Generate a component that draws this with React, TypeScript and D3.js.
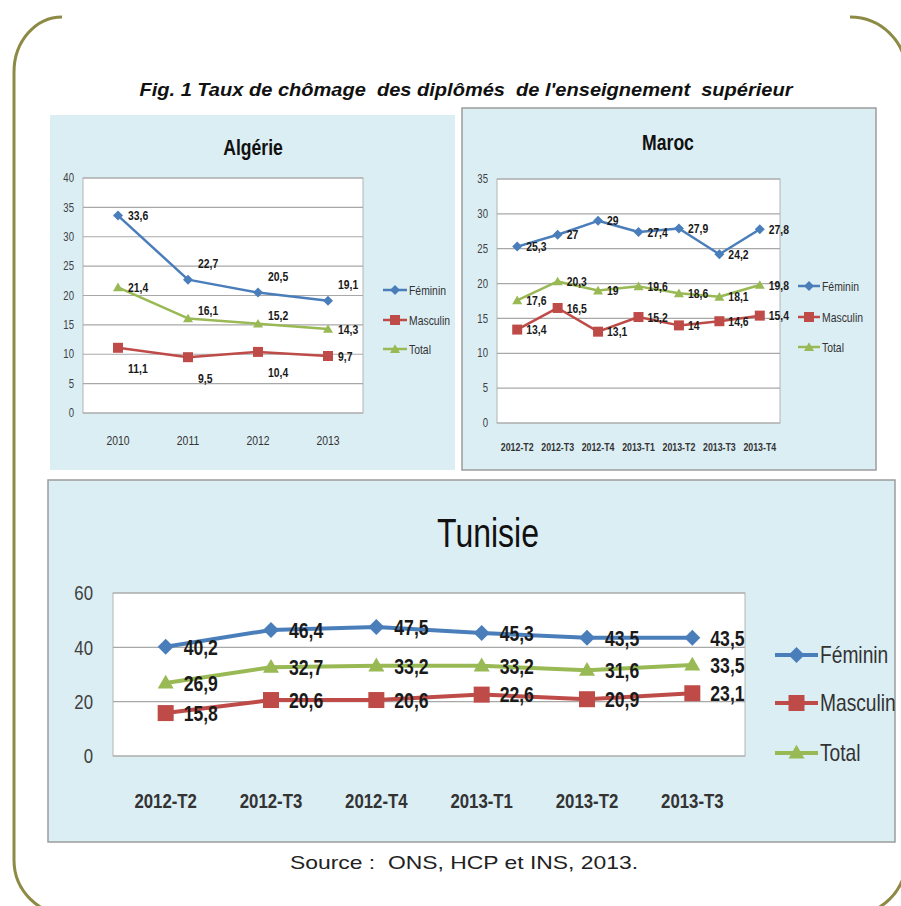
import * as d3 from 'd3';

const W = 901;
const H = 906;

// Algérie
const algCats = ['2010', '2011', '2012', '2013'];
const algFem = [33.6, 22.7, 20.5, 19.1];
const algMasc = [11.1, 9.5, 10.4, 9.7];
const algTot = [21.4, 16.1, 15.2, 14.3];

// Maroc
const marCats = ['2012-T2', '2012-T3', '2012-T4', '2013-T1', '2013-T2', '2013-T3', '2013-T4'];
const marFem = [25.3, 27, 29, 27.4, 27.9, 24.2, 27.8];
const marMasc = [13.4, 16.5, 13.1, 15.2, 14, 14.6, 15.4];
const marTot = [17.6, 20.3, 19, 19.6, 18.6, 18.1, 19.8];

// Tunisie
const tunCats = ['2012-T2', '2012-T3', '2012-T4', '2013-T1', '2013-T2', '2013-T3'];
const tunFem = [40.2, 46.4, 47.5, 45.3, 43.5, 43.5];
const tunMasc = [15.8, 20.6, 20.6, 22.6, 20.9, 23.1];
const tunTot = [26.9, 32.7, 33.2, 33.2, 31.6, 33.5];

const seriesNames = ['Féminin', 'Masculin', 'Total'];

// label placement codes: r = right, u = up a bit, uu = up more, d = below
const algPos = [
  ['r', 'uu', 'uu', 'uu'],
  ['d', 'd', 'd', 'r'],
  ['r', 'u', 'u', 'r'],
];

const COL = ['#4a7ebb', '#be4b48', '#98b954'];
const KIND = ['diamond', 'square', 'triangle'];
const SANS = '"Liberation Sans", Arial, sans-serif';
const SQ = 0.8; // horizontal squeeze, the source picture is condensed
const PANEL_BG = '#dbeef4';

const fmt = (v: number) => String(v).replace('.', ',');
const posDy: Record<string, number> = { r: 0, u: -8, uu: -16, d: 21 };

// condensed text
function T({ x, y, size, anchor = 'start', weight = 'normal', fill = '#222', dy = '0.35em', children }: any) {
  return (
    <text transform={`translate(${x},${y}) scale(${SQ},1)`} textAnchor={anchor} dy={dy}
      fontFamily={SANS} fontSize={size} fontWeight={weight} fill={fill}>{children}</text>
  );
}

function Marker({ kind, x, y, s, color }: { kind: string; x: number; y: number; s: number; color: string }) {
  if (kind === 'diamond') {
    const d = d3.symbol().type(d3.symbolSquare).size((s * s) / 2)()!;
    return <path d={d} transform={`translate(${x},${y}) rotate(45)`} fill={color} />;
  }
  if (kind === 'square') {
    const d = d3.symbol().type(d3.symbolSquare).size(s * s)()!;
    return <path d={d} transform={`translate(${x},${y})`} fill={color} />;
  }
  const d = d3.symbol().type(d3.symbolTriangle).size((Math.sqrt(3) / 4) * s * s)()!;
  return <path d={d} transform={`translate(${x},${y + 1})`} fill={color} />;
}

interface PanelProps {
  id: string;
  title: string;
  cats: string[];
  values: number[][];
  pos?: string[][];
  box: [number, number, number, number];
  plot: [number, number, number, number];
  yMax: number;
  yStep: number;
  border: boolean;
  titleX: number;
  titleY: number;
  titleSize: number;
  titleWeight: string;
  tickSize: number;
  tickX: number;
  xLabY: number;
  xLabSize: number;
  xLabWeight: string;
  labSize: number;
  labDx: number;
  lineW: number;
  mark: number;
  legX: number;
  legLen: number;
  legY: number[];
  legSize: number;
}

function Panel(p: PanelProps) {
  const [bx, by, bw, bh] = p.box;
  const [l, t, r, b] = p.plot;
  const x = d3.scaleBand<string>().domain(p.cats).range([l, r]);
  const y = d3.scaleLinear().domain([0, p.yMax]).range([b, t]);
  const ticks = d3.range(0, p.yMax + 0.001, p.yStep);
  const cx = (i: number) => x(p.cats[i])! + x.bandwidth() / 2;
  const line = d3.line<number>().x((_, i) => cx(i)).y(d => y(d));

  return (
    <g>
      <defs>
        <clipPath id={`clip-${p.id}`}>
          <rect x={bx} y={by} width={bw} height={bh} />
        </clipPath>
      </defs>
      <rect x={bx} y={by} width={bw} height={bh} fill={PANEL_BG}
        stroke={p.border ? '#9c9c9c' : 'none'} strokeWidth={1.5} />
      <g clipPath={`url(#clip-${p.id})`}>
        <T x={p.titleX} y={p.titleY} dy="0" anchor="middle" size={p.titleSize} weight={p.titleWeight} fill="#111">{p.title}</T>
        <rect x={l} y={t} width={r - l} height={b - t} fill="#fff" stroke="#b4b4b4" strokeWidth={1} />
        {ticks.map(v => (
          <g key={v}>
            <line x1={l} x2={r} y1={y(v)} y2={y(v)} stroke="#a8a8a8" strokeWidth={1.2} />
            <T x={p.tickX} y={y(v)} anchor="end" size={p.tickSize} fill="#404040">{v}</T>
          </g>
        ))}
        {p.cats.map((c, i) => (
          <T key={c} x={cx(i)} y={p.xLabY} dy="0" anchor="middle" size={p.xLabSize} weight={p.xLabWeight} fill="#333">{c}</T>
        ))}
        {p.values.map((vals, si) => (
          <g key={si}>
            <path d={line(vals)!} fill="none" stroke={COL[si]} strokeWidth={p.lineW} strokeLinejoin="round" />
            {vals.map((v, i) => (
              <Marker key={i} kind={KIND[si]} x={cx(i)} y={y(v)} s={p.mark} color={COL[si]} />
            ))}
          </g>
        ))}
        {p.values.map((vals, si) =>
          vals.map((v, i) => {
            const code = p.pos ? p.pos[si][i] : 'r';
            return (
              <T key={`${si}-${i}`} x={cx(i) + p.labDx} y={y(v) + posDy[code]} size={p.labSize} weight="bold" fill="#1a1a1a">{fmt(v)}</T>
            );
          })
        )}
        {seriesNames.map((name, si) => (
          <g key={name}>
            <line x1={p.legX} x2={p.legX + p.legLen} y1={p.legY[si]} y2={p.legY[si]}
              stroke={COL[si]} strokeWidth={p.lineW} />
            <Marker kind={KIND[si]} x={p.legX + p.legLen / 2} y={p.legY[si]} s={p.mark} color={COL[si]} />
            <T x={p.legX + p.legLen + 2} y={p.legY[si]} size={p.legSize} fill="#333">{name}</T>
          </g>
        ))}
      </g>
    </g>
  );
}

export default function App() {
  return (
    <svg width={W} height={H} style={{ position: 'absolute', left: 0, top: 0, background: '#fff' }}>
      {/* outer rounded frame, top edge is not drawn */}
      <path d="M 62 17 A 48 55 0 0 0 14 72 L 14 860 A 55 55 0 0 0 69 915" fill="none" stroke="#8d8a45" strokeWidth={3} />
      <path d="M 850 17 A 56 55 0 0 1 906 72 L 906 860 A 55 55 0 0 1 851 915" fill="none" stroke="#8d8a45" strokeWidth={3} />

      <text x={466} y={96} textAnchor="middle" fontFamily={SANS} fontSize={18} fontWeight="bold"
        fontStyle="italic" fill="#111" textLength={653} lengthAdjust="spacingAndGlyphs"
        style={{ whiteSpace: 'pre' }}>
        {"Fig. 1 Taux de chômage  des diplômés  de l'enseignement  supérieur"}
      </text>

      <Panel id="alg" title="Algérie" cats={algCats} values={[algFem, algMasc, algTot]} pos={algPos}
        box={[50, 115, 405, 355]} plot={[83, 178, 363, 413]} yMax={40} yStep={5} border={false}
        titleX={253} titleY={155} titleSize={22} titleWeight="bold"
        tickSize={12} tickX={74} xLabY={445} xLabSize={13} xLabWeight="normal"
        labSize={13} labDx={10} lineW={2.5} mark={10}
        legX={383} legLen={24} legY={[290, 320, 349]} legSize={13} />

      <Panel id="mar" title="Maroc" cats={marCats} values={[marFem, marMasc, marTot]}
        box={[462, 108, 414, 362]} plot={[497, 179, 780, 423]} yMax={35} yStep={5} border={true}
        titleX={668} titleY={150} titleSize={22} titleWeight="bold"
        tickSize={12} tickX={488} xLabY={451} xLabSize={11} xLabWeight="bold"
        labSize={13} labDx={9} lineW={2.5} mark={10}
        legX={798} legLen={22} legY={[286, 317, 347]} legSize={13} />

      <Panel id="tun" title="Tunisie" cats={tunCats} values={[tunFem, tunMasc, tunTot]}
        box={[48, 480, 847, 362]} plot={[113, 593, 745, 756]} yMax={60} yStep={20} border={true}
        titleX={488} titleY={547} titleSize={40} titleWeight="normal"
        tickSize={21} tickX={93} xLabY={808} xLabSize={21} xLabWeight="bold"
        labSize={22} labDx={18} lineW={4} mark={16}
        legX={775} legLen={43} legY={[655, 703, 753]} legSize={24} />

      <text x={464} y={869} textAnchor="middle" fontFamily={SANS} fontSize={19} fill="#222"
        textLength={348} lengthAdjust="spacingAndGlyphs" style={{ whiteSpace: 'pre' }}>
        {'Source :  ONS, HCP et INS, 2013.'}
      </text>
    </svg>
  );
}
